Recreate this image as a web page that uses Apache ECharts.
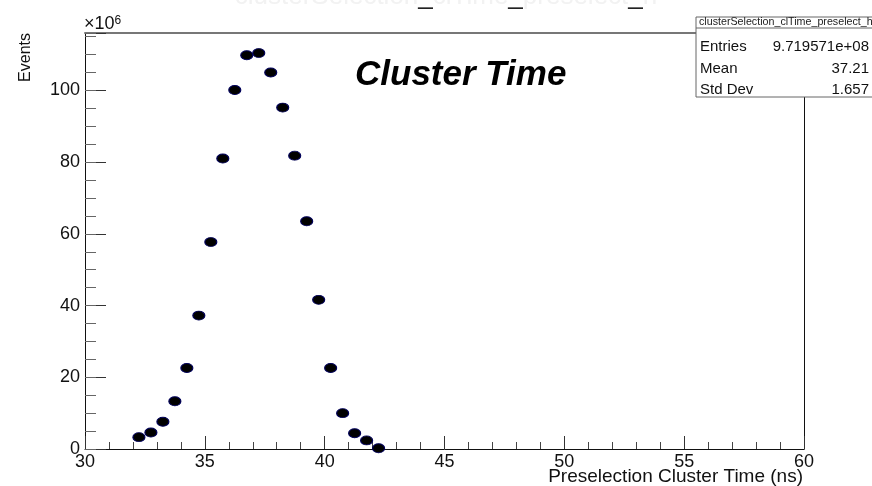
<!DOCTYPE html>
<html><head><meta charset="utf-8">
<script src="https://cdn.jsdelivr.net/npm/echarts@6/dist/echarts.min.js"></script>
<style>html,body{margin:0;padding:0;background:#fff}#c{width:872px;height:486px}</style>
</head><body><div id="c"></div>
<script>
// ---- data ----
const binCenters = [32.25, 32.75, 33.25, 33.75, 34.25, 34.75, 35.25, 35.75, 36.25, 36.75,
                    37.25, 37.75, 38.25, 38.75, 39.25, 39.75, 40.25, 40.75, 41.25, 41.75, 42.25];
const eventsE6   = [3.3, 4.6, 7.6, 13.3, 22.6, 37.2, 57.7, 81.0, 100.1, 109.8,
                    110.4, 105.0, 95.2, 81.8, 63.5, 41.6, 22.6, 10.0, 4.4, 2.4, 0.2];
const xRange = [30, 60];
const yRange = [0, 116];
const xMajorStep = 5;
const yMajorStep = 20;
const yMinorStep = 5;
const histName = 'clusterSelection_clTime_preselect_h';
const statLabels = ['Entries', 'Mean', 'Std Dev'];
const statValues = ['9.719571e+08', '37.21', '1.657'];
const plotLabel = 'Cluster Time';
const xTitle = 'Preselection Cluster Time (ns)';
const yTitle = 'Events';
const yExponent = '6';

const FONT = "'Liberation Sans', Arial, Helvetica, sans-serif";
const points = binCenters.map((x, i) => [x, eventsE6[i]]);

const chart = echarts.init(document.getElementById('c'), null, {renderer: 'canvas'});

const titleRich = histName.split('_').map(s => '{l|' + s + '}').join('{u|_}');

const BOXZ = 200;
const statElems = [
  {type: 'rect', z: BOXZ, shape: {x: 696, y: 17, width: 190, height: 80},
   style: {fill: '#fff', stroke: '#666', lineWidth: 1}},
  {type: 'line', z: BOXZ + 1, shape: {x1: 696, y1: 28, x2: 886, y2: 28}, style: {stroke: '#666', lineWidth: 1}},
  {type: 'text', z: BOXZ + 1, x: 699, y: 22.5, style: {text: histName, font: '10.7px ' + FONT, fill: '#222', verticalAlign: 'middle'}}
];
statLabels.forEach((lab, i) => {
  const yy = 47 + i * 21.5;
  statElems.push({type: 'text', z: BOXZ + 1, x: 700, y: yy, style: {text: lab, font: '15px ' + FONT, fill: '#111', verticalAlign: 'middle'}});
  statElems.push({type: 'text', z: BOXZ + 1, x: 869, y: yy, style: {text: statValues[i], font: '15px ' + FONT, fill: '#111', align: 'right', verticalAlign: 'middle'}});
});

const option = {
  animation: false,
  backgroundColor: '#fff',
  grid: {left: 85, right: 68, top: 33, bottom: 37, containLabel: false, outerBoundsMode: 'none'},
  xAxis: [
    {type: 'value', min: xRange[0], max: xRange[1], interval: xMajorStep, position: 'bottom',
     axisLine: {show: true, onZero: false, lineStyle: {color: '#111', width: 1}},
     axisTick: {show: true, inside: true, length: 13, lineStyle: {color: '#333', width: 1}},
     minorTick: {show: true, splitNumber: 5, length: 7, lineStyle: {color: '#444', width: 1}},
     axisLabel: {fontFamily: FONT, fontSize: 18, color: '#111', margin: 4},
     splitLine: {show: false}
    },
    {type: 'value', min: xRange[0], max: xRange[1], position: 'top',
     axisLine: {show: true, onZero: false, lineStyle: {color: '#777', width: 2}},
     axisTick: {show: false}, axisLabel: {show: false}, splitLine: {show: false}}
  ],
  yAxis: [
    {type: 'value', min: yRange[0], max: yRange[1], interval: yMajorStep, position: 'left',
     axisLine: {show: true, onZero: false, lineStyle: {color: '#111', width: 1}},
     axisTick: {show: true, inside: true, length: 21, lineStyle: {color: '#333', width: 1}},
     axisLabel: {fontFamily: FONT, fontSize: 18, color: '#111', margin: 5,
                 formatter: v => (v % yMajorStep === 0 ? String(v) : '')},
     splitLine: {show: false}},
    {type: 'value', min: yRange[0], max: yRange[1], interval: yMinorStep, position: 'left',
     axisLine: {show: false},
     axisTick: {show: true, inside: true, length: 11, lineStyle: {color: '#666', width: 1}},
     axisLabel: {show: false}, splitLine: {show: false}},
    {type: 'value', min: yRange[0], max: yRange[1], position: 'right',
     axisLine: {show: true, onZero: false, lineStyle: {color: '#111', width: 1}},
     axisTick: {show: false}, axisLabel: {show: false}, splitLine: {show: false}}
  ],
  series: [{
    type: 'scatter', xAxisIndex: 0, yAxisIndex: 0, data: points,
    symbol: 'circle', symbolSize: [12, 9],
    itemStyle: {color: '#000', borderColor: '#00005a', borderWidth: 1, opacity: 1},
    z: 5
  }]
};
chart.setOption(option);

// place titles relative to the axes the library laid out
const xEnd = chart.convertToPixel({xAxisIndex: 0}, xRange[1]);
const xStart = chart.convertToPixel({xAxisIndex: 0}, xRange[0]);
const yTop = chart.convertToPixel({yAxisIndex: 0}, yRange[1]);
const yZero = chart.convertToPixel({yAxisIndex: 0}, yRange[0]);

chart.setOption({
  graphic: {
    z: 100,
    elements: [
      {type: 'text', x: 446, y: 10, z: 1,
       style: {text: titleRich, align: 'center', verticalAlign: 'bottom', font: '26px ' + FONT,
               rich: {l: {fontSize: 26, fontFamily: FONT, fill: '#f2f2f2'},
                      u: {fontSize: 26, fontFamily: FONT, fill: '#222'}}}},
      {type: 'text', x: 355, y: 75, z: 50,
       style: {text: plotLabel, font: 'italic bold 35px ' + FONT, fill: '#000', verticalAlign: 'middle'}},
      {type: 'text', x: xStart - 1, y: yTop, z: 50,
       style: {text: '{a|×10}{b|' + yExponent + '}', verticalAlign: 'bottom',
               rich: {a: {fontSize: 18, fontFamily: FONT, fill: '#111'},
                      b: {fontSize: 12, fontFamily: FONT, fill: '#111', verticalAlign: 'top'}}}},
      {type: 'text', x: 26, y: yTop, rotation: Math.PI / 2, z: 50,
       style: {text: yTitle, font: '16px ' + FONT, fill: '#111', align: 'right', verticalAlign: 'middle'}},
      {type: 'text', x: xEnd - 1, y: yZero + 28, z: 50,
       style: {text: xTitle, font: '19px ' + FONT, fill: '#111', align: 'right', verticalAlign: 'middle'}}
    ].concat(statElems)
  }
});
</script>
</body></html>
